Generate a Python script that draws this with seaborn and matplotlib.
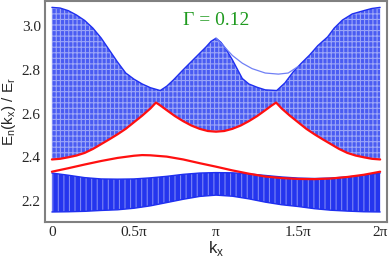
import numpy as np
import pandas as pd
import matplotlib
matplotlib.use('Agg')
import matplotlib.pyplot as plt
import seaborn as sns

# kx in units of pi, energies in units of E_r
kx_up_bot = [0, 0.05, 0.1, 0.15, 0.2, 0.25, 0.3, 0.35, 0.4, 0.45, 0.5, 0.55, 0.6, 0.634,
             0.66, 0.7, 0.75, 0.8, 0.85, 0.9, 0.95, 1.0,
             1.05, 1.1, 1.15, 1.2, 1.25, 1.3, 1.34, 1.366,
             1.4, 1.45, 1.5, 1.55, 1.6, 1.65, 1.7, 1.75, 1.8, 1.85, 1.9, 1.95, 2.0]
e_up_bot = [2.39, 2.393, 2.40, 2.408, 2.42, 2.438, 2.46, 2.482, 2.505, 2.53, 2.56, 2.59, 2.623, 2.65,
            2.637, 2.615, 2.588, 2.565, 2.545, 2.53, 2.52, 2.517,
            2.52, 2.53, 2.545, 2.565, 2.588, 2.615, 2.637, 2.65,
            2.623, 2.59, 2.56, 2.53, 2.505, 2.482, 2.46, 2.438, 2.42, 2.408, 2.40, 2.393, 2.39]

kx_up_top = [0, 0.05, 0.1, 0.15, 0.2, 0.25, 0.3, 0.35, 0.4, 0.45, 0.5, 0.55, 0.6, 0.66,
             0.7, 0.74, 0.8, 0.88, 0.94, 0.97, 1.0, 1.03, 1.06, 1.1, 1.16, 1.2, 1.25,
             1.3, 1.37, 1.42, 1.47, 1.52, 1.57, 1.62, 1.68, 1.72, 1.77, 1.83, 1.9, 1.95, 2.0]
e_up_top = [3.085, 3.082, 3.07, 3.05, 3.025, 2.99, 2.945, 2.89, 2.835, 2.785, 2.757, 2.735, 2.718, 2.705,
            2.725, 2.753, 2.80, 2.86, 2.905, 2.93, 2.944, 2.925, 2.895, 2.845, 2.76, 2.735, 2.72,
            2.708, 2.705, 2.74, 2.79, 2.83, 2.867, 2.91, 2.95, 2.99, 3.027, 3.055, 3.07, 3.08, 3.085]

# separated thin band right of pi
kx_thin = [1.0, 1.05, 1.1, 1.16, 1.22, 1.3, 1.38, 1.44, 1.5]
e_thin = [2.944, 2.905, 2.865, 2.83, 2.805, 2.785, 2.78, 2.785, 2.815]

kx_gap = [0, 0.1, 0.2, 0.3, 0.4, 0.5, 0.55, 0.6, 0.7, 0.8, 0.9, 1.0,
          1.1, 1.2, 1.3, 1.4, 1.5, 1.6, 1.7, 1.8, 1.9, 2.0]
e_gap = [2.334, 2.35, 2.367, 2.383, 2.397, 2.407, 2.41, 2.409, 2.403, 2.39, 2.373, 2.357,
         2.34, 2.325, 2.312, 2.305, 2.301, 2.300, 2.303, 2.31, 2.32, 2.334]

kx_low = [0, 0.1, 0.2, 0.3, 0.4, 0.5, 0.6, 0.7, 0.8, 0.9, 1.0,
          1.1, 1.2, 1.3, 1.4, 1.5, 1.6, 1.7, 1.8, 1.9, 2.0]
e_low_top = [2.328, 2.318, 2.307, 2.301, 2.30, 2.301, 2.306, 2.313, 2.322, 2.328, 2.33,
             2.329, 2.324, 2.317, 2.31, 2.305, 2.303, 2.305, 2.31, 2.318, 2.328]
e_low_bot = [2.15, 2.151, 2.153, 2.157, 2.16, 2.167, 2.178, 2.193, 2.208, 2.221, 2.227,
             2.222, 2.21, 2.195, 2.183, 2.175, 2.165, 2.158, 2.154, 2.151, 2.15]

xticks = [0, 0.5, 1, 1.5, 2]
xticklabels = ['0', '0.5π', 'π', '1.5π', '2π']
yticks = [2.2, 2.4, 2.6, 2.8, 3.0]

sns.set_theme(style='white')
plt.rcParams['font.family'] = ['Liberation Serif', 'DejaVu Serif']
plt.rcParams['hatch.linewidth'] = 0.8

fig = plt.figure(figsize=(3.9, 2.57), dpi=100)
ax = fig.add_axes([0.1154, 0.136, 0.877, 0.86])

blue = '#1f2ff0'
red = '#ff1010'

# upper bulk band: fill between red bottom edge and blue top edge
grid = np.union1d(kx_up_bot, kx_up_top)
lo = np.interp(grid, kx_up_bot, e_up_bot)
hi = np.interp(grid, kx_up_top, e_up_top)
ax.fill_between(grid, lo, hi, facecolor='#4a5cf2', edgecolor=(1, 1, 1, 0.45),
                hatch='||||---', linewidth=0)
ax.plot(kx_up_top, e_up_top, color=blue, lw=1.0)
ax.plot(kx_thin, e_thin, color='#7080f5', lw=0.9)

# lower bulk band
ax.fill_between(kx_low, e_low_bot, e_low_top, facecolor='#2435ee',
                edgecolor=(1, 1, 1, 0.4), hatch='|||', linewidth=0)
ax.plot(kx_low, e_low_bot, color=blue, lw=1.0)
ax.plot(kx_low, e_low_top, color=blue, lw=1.0)

# edge states
df_bot = pd.DataFrame({'kx': kx_up_bot, 'E': e_up_bot})
df_gap = pd.DataFrame({'kx': kx_gap, 'E': e_gap})
sns.lineplot(data=df_bot, x='kx', y='E', color=red, lw=1.6, ax=ax)
sns.lineplot(data=df_gap, x='kx', y='E', color=red, lw=1.6, ax=ax)

ax.set_xlim(-0.042, 2.042)
ax.set_ylim(2.104, 3.114)
ax.set_xticks(xticks)
ax.set_xticklabels(xticklabels, fontsize=11)
ax.set_yticks(yticks)
ax.set_yticklabels([f'{v:.1f}' for v in yticks], fontsize=11)
ax.tick_params(axis='both', direction='in', length=2, width=1, color='#808080', pad=3)

for s in ax.spines.values():
    s.set_color('#808080')
    s.set_linewidth(1.5)

ax.set_xlabel('k$_\\mathregular{x}$', family=['Liberation Sans', 'DejaVu Sans'],
              fontsize=12, labelpad=0)
ax.set_ylabel('E$_\\mathregular{n}$(k$_\\mathregular{x}$) / E$_\\mathregular{r}$',
              family=['Liberation Sans', 'DejaVu Sans'], fontsize=11, labelpad=3)

ax.text(1.0, 3.023, 'Γ = 0.12', color='#1f9a1f', fontsize=14, ha='center', va='center')

fig.savefig('out.png', dpi=100)
